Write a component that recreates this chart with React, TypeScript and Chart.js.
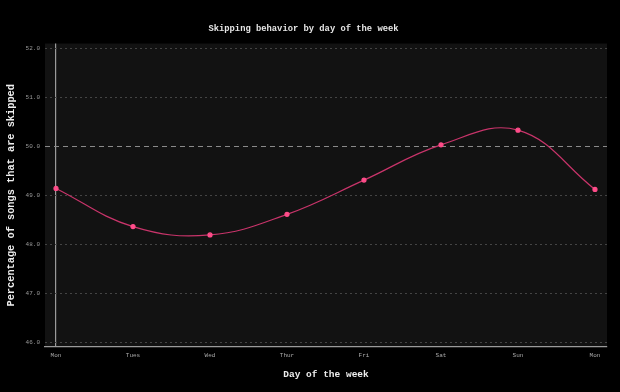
import React, { useEffect, useRef } from "react";
import { Chart, registerables } from "chart.js";

Chart.register(...registerables);

const days = ["Mon", "Tues", "Wed", "Thur", "Fri", "Sat", "Sun", "Mon"];
const skipPct = [49.14, 48.36, 48.19, 48.61, 49.31, 50.03, 50.33, 49.12];
const yTickValues = [46, 47, 48, 49, 50, 51, 52];
const referenceLine = 50;

const FONT = "'Liberation Mono', 'DejaVu Sans Mono', monospace";

const plotBg = {
  id: "plotBg",
  beforeDraw(chart: any) {
    const { ctx, chartArea } = chart;
    ctx.save();
    ctx.fillStyle = "#121212";
    ctx.fillRect(chartArea.left, chartArea.top, chartArea.right - chartArea.left, chartArea.bottom - chartArea.top);
    ctx.restore();
  },
};

export default function App() {
  const ref = useRef<HTMLCanvasElement>(null);
  useEffect(() => {
    document.body.style.margin = "0";
    document.body.style.background = "#000";
    const chart = new Chart(ref.current!, {
      type: "line",
      data: {
        datasets: [
          {
            data: skipPct.map((v, i) => ({ x: i, y: v })),
            borderColor: "#c8346a",
            borderWidth: 1.2,
            backgroundColor: "#ff4d8a",
            pointBackgroundColor: "#ff4d8a",
            pointBorderColor: "#ff4d8a",
            pointRadius: 2,
            tension: 0.4,
            fill: false,
          },
        ],
      },
      options: {
        animation: false,
        responsive: false,
        maintainAspectRatio: false,
        layout: { padding: { right: 13 } },
        plugins: {
          legend: { display: false },
          tooltip: { enabled: false },
          title: {
            display: true,
            text: "Skipping behavior by day of the week",
            color: "#e6e6e6",
            font: { family: FONT, size: 8.8, weight: "bold" },
            padding: { top: 24, bottom: 9 },
          },
        },
        scales: {
          x: {
            type: "linear",
            min: -0.143,
            max: 7.156,
            afterBuildTicks: (s: any) => {
              s.ticks = days.map((_, i) => ({ value: i }));
            },
            afterFit: (s: any) => {
              s.height = 45;
            },
            ticks: {
              callback: (v: any) => days[Math.round(Number(v))] ?? "",
              color: "#aaa",
              font: { family: FONT, size: 6 },
              padding: 5,
              maxRotation: 0,
              autoSkip: false,
            },
            grid: {
              drawTicks: false,
              color: (ctx: any) => (ctx.index === 0 ? "#9a9a9a" : "rgba(0,0,0,0)"),
              lineWidth: 1.2,
            },
            border: { display: true, color: "#9a9a9a", width: 1.2 },
            title: {
              display: true,
              text: "Day of the week",
              color: "#eeeeee",
              font: { family: FONT, size: 9.5, weight: "bold" },
              padding: { top: 0, bottom: 12 },
            },
          },
          y: {
            min: 45.9,
            max: 52.1,
            afterBuildTicks: (s: any) => {
              s.ticks = yTickValues.map((v) => ({ value: v }));
            },
            afterFit: (s: any) => {
              s.width = 45;
            },
            ticks: {
              callback: (v: any) => Number(v).toFixed(1),
              color: "#9a9a9a",
              font: { family: FONT, size: 6 },
              padding: 5,
            },
            grid: {
              drawTicks: false,
              color: (ctx: any) =>
                ctx.tick && ctx.tick.value === referenceLine ? "rgba(0,0,0,0)" : "#444444",
              lineWidth: 1,
            },
            border: { display: false, dash: [2, 3] },
            title: {
              display: true,
              text: "Percentage of songs that are skipped",
              color: "#eeeeee",
              font: { family: FONT, size: 10.3, weight: "bold" },
              padding: { top: 5, bottom: 0 },
            },
          },
          yRef: {
            position: "left",
            display: true,
            min: 45.9,
            max: 52.1,
            afterBuildTicks: (s: any) => {
              s.ticks = [{ value: referenceLine }];
            },
            afterFit: (s: any) => {
              s.width = 0;
            },
            ticks: { display: false },
            grid: { drawTicks: false, color: "#8a8a8a", lineWidth: 1 },
            border: { display: false, dash: [5, 4] },
          },
        },
      } as any,
      plugins: [plotBg],
    });
    return () => chart.destroy();
  }, []);
  return (
    <div style={{ width: 620, height: 392, background: "#000" }}>
      <canvas ref={ref} width={620} height={392} style={{ display: "block" }} />
    </div>
  );
}
